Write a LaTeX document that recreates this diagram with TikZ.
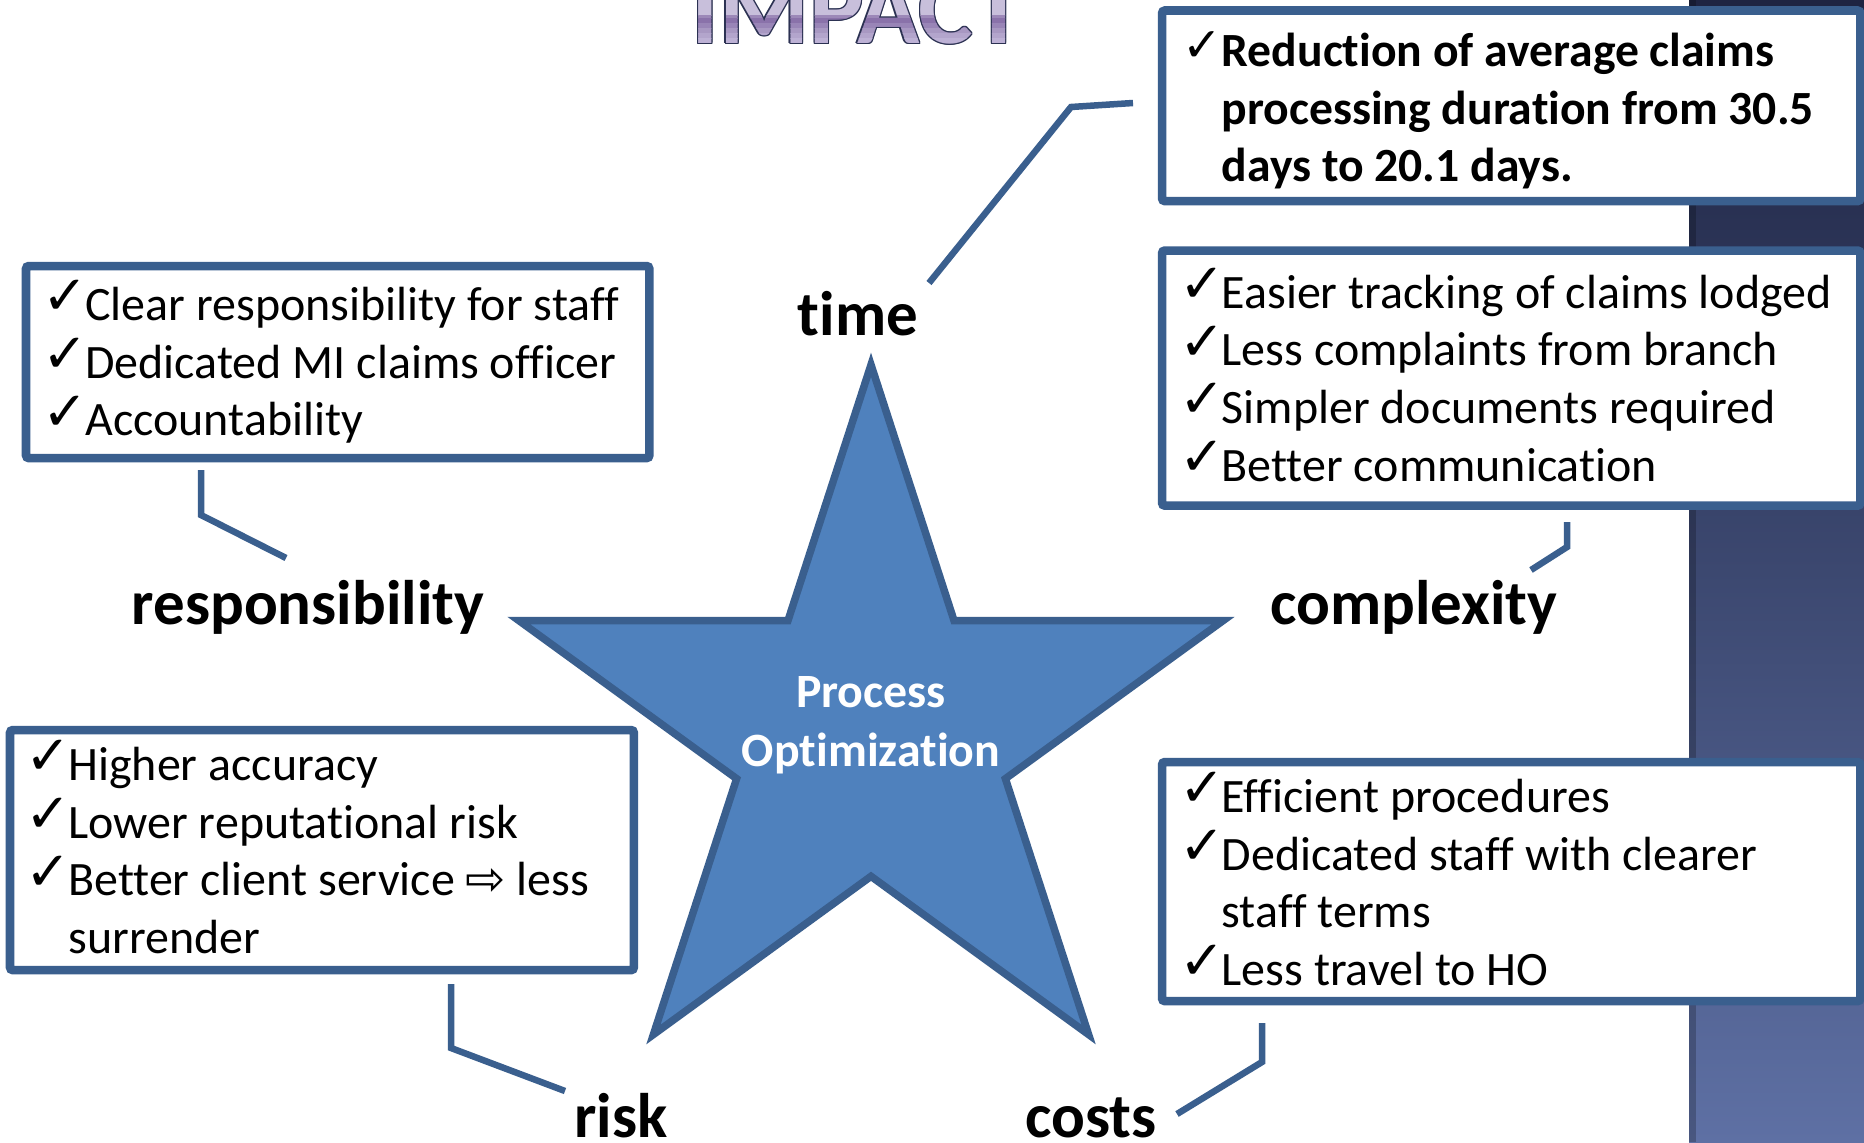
\documentclass[tikz,border=0pt]{standalone}
\usepackage{fontspec}
\setmainfont{Carlito}[Ligatures=CommonOff]
\newfontfamily\checkfont{DejaVu Sans}
\usetikzlibrary{shapes.geometric}
\definecolor{bord}{HTML}{3A5F8E}
\definecolor{starfill}{HTML}{4F81BD}
\definecolor{panelA}{HTML}{1E2442}
\definecolor{panelB}{HTML}{3C4870}
\definecolor{panelC}{HTML}{5E70A4}
\definecolor{ttlol}{HTML}{2B3152}
\definecolor{tA}{HTML}{C8BFDB}
\definecolor{tB}{HTML}{9C88B8}
\definecolor{tC}{HTML}{8A72AA}
\definecolor{tD}{HTML}{9985B7}
\definecolor{tE}{HTML}{A898C2}
\definecolor{tF}{HTML}{B3A5CC}
\definecolor{tG}{HTML}{BDB1D5}
\newcommand{\ckm}{\makebox[10.3pt][l]{\hspace*{-1.8pt}\raisebox{1.6pt}{\fontsize{15.5pt}{16pt}\checkfont ✓}}}
\newcommand{\cks}{\makebox[10.3pt][l]{\hspace*{-1pt}\raisebox{1.4pt}{\fontsize{13.5pt}{14pt}\checkfont ✓}}}
\newcommand{\ind}{\hspace*{10.3pt}}
\newcommand{\boxlines}[1]{\vtop{\baselineskip=16.4pt\lineskiplimit=-100pt\lineskip=0pt #1}}
\newcommand{\ctrtwo}[2]{\vtop{\baselineskip=16.8pt\lineskiplimit=-100pt\lineskip=0pt\halign{\hfil##\hfil\cr #1\cr #2\cr}}}
\begin{document}
\begin{tikzpicture}[x=0.01cm, y=-0.01cm,
  box/.style={draw=bord, line width=2.42pt, fill=white, rounded corners=0.8pt, inner sep=0pt, outer sep=0pt, anchor=north west},
  conn/.style={draw=bord, line width=1.85pt},
  body/.style={font=\fontsize{13.64pt}{16.4pt}\selectfont, anchor=base west, inner sep=0pt, text=black},
  lbl/.style={font=\fontsize{17.9pt}{21pt}\selectfont\bfseries, anchor=base, inner sep=0pt, text=black},
  ttl/.style={font=\fontsize{29.3pt}{31pt}\selectfont\bfseries, anchor=base, inner sep=0pt}]
\useasboundingbox (0,0) rectangle (1864,1142);
\fill[white] (0,0) rectangle (1864,1142);
% right panel
\shade[top color=panelA, bottom color=panelC, middle color=panelB] (1689,0) rectangle (1864,1142);
\fill[black, opacity=0.22] (1689,0) rectangle (1696,1142);
% title
\foreach \dx/\dy [count=\k] in {-1.2/0, 1.2/0, 0/-1.2, 0/1.2, -0.85/-0.85, 0.85/0.85, -0.85/0.85, 0.85/-0.85}
  \node[ttl, text=ttlol] (ttlo\k) at (858+\dx, 43.5+\dy) {IMPACT};
\foreach \ya/\yb/\col [count=\k] in {0/15/tA, 15/18/tB, 18/23/tC, 23/28/tD, 28/33/tE, 33/38/tF, 38/60/tG}{
  \begin{scope}
    \clip (640,\ya) rectangle (1090,\yb);
    \node[ttl, text=\col] (ttl\k) at (858,43.5) {IMPACT};
  \end{scope}
}
% boxes
\node[box, minimum width=6.98cm, minimum height=1.905cm] (btime) at (1162,10.5) {};
\node[box, minimum width=6.98cm, minimum height=2.55cm] (bcomp) at (1162,250.5) {};
\node[box, minimum width=6.98cm, minimum height=2.39cm] (bcost) at (1162,762) {};
\node[box, minimum width=6.23cm, minimum height=1.92cm] (bresp) at (26,266) {};
\node[box, minimum width=6.235cm, minimum height=2.40cm] (brisk) at (10,730) {};
% box texts
\node[body, font=\fontsize{13.55pt}{16.4pt}\selectfont\bfseries] (ttime) at (1184.8,66.5) {\boxlines{%
  \hbox{\cks Reduction of average claims}%
  \hbox{\ind processing duration from 30.5}%
  \hbox{\ind days to 20.1 days.}}};
\node[body] (tcomp) at (1184.8,308) {\boxlines{%
  \hbox{\ckm Easier tracking of claims lodged}%
  \hbox{\ckm Less complaints from branch}%
  \hbox{\ckm Simpler documents required}%
  \hbox{\ckm Better communication}}};
\node[body] (tcost) at (1184.8,812.5) {\boxlines{%
  \hbox{\ckm Efficient procedures}%
  \hbox{\ckm Dedicated staff with clearer}%
  \hbox{\ind staff terms}%
  \hbox{\ckm Less travel to HO}}};
\node[body] (tresp) at (48.5,320.5) {\boxlines{%
  \hbox{\ckm Clear responsibility for staff}%
  \hbox{\ckm Dedicated MI claims officer}%
  \hbox{\ckm Accountability}}};
\node[body] (trisk) at (31.5,780.5) {\boxlines{%
  \hbox{\ckm Higher accuracy}%
  \hbox{\ckm Lower reputational risk}%
  \hbox{\ckm Better client service {\checkfont ⇨} less}%
  \hbox{\ind surrender}}};
% star
\node[star, star points=5, star point ratio=2.62, minimum size=7.4cm, inner sep=0pt, outer sep=0pt,
      draw=bord, fill=starfill, line width=2.13pt] (star) at (871,735) {};
\node[anchor=base, inner sep=0pt, text=white, font=\fontsize{13.6pt}{16.8pt}\selectfont\bfseries] (po) at (871,707) {\ctrtwo{Process}{Optimization}};
% labels
\node[lbl] (ltime) at (858,335) {time};
\node[lbl] (lresp) at (308,624) {responsibility};
\node[lbl] (lcomp) at (1414,624) {complexity};
\node[lbl] (lrisk) at (621,1137) {risk};
\node[lbl] (lcost) at (1091,1137) {costs};
% connectors
\coordinate (ct1) at (929,283); \coordinate (ct2) at (1071,107); \coordinate (ct3) at (1133,103);
\coordinate (cr1) at (201,470); \coordinate (cr2) at (201,515); \coordinate (cr3) at (286,558);
\coordinate (cc1) at (1567,522); \coordinate (cc2) at (1567,547); \coordinate (cc3) at (1531,570);
\coordinate (ck1) at (451,984); \coordinate (ck2) at (451,1048); \coordinate (ck3) at (565,1091);
\coordinate (co1) at (1262,1023); \coordinate (co2) at (1262,1062); \coordinate (co3) at (1177,1114);
\draw[conn] (ct1) -- (ct2) -- (ct3);
\draw[conn] (cr1) -- (cr2) -- (cr3);
\draw[conn] (cc1) -- (cc2) -- (cc3);
\draw[conn] (ck1) -- (ck2) -- (ck3);
\draw[conn] (co1) -- (co2) -- (co3);
\end{tikzpicture}
\end{document}
